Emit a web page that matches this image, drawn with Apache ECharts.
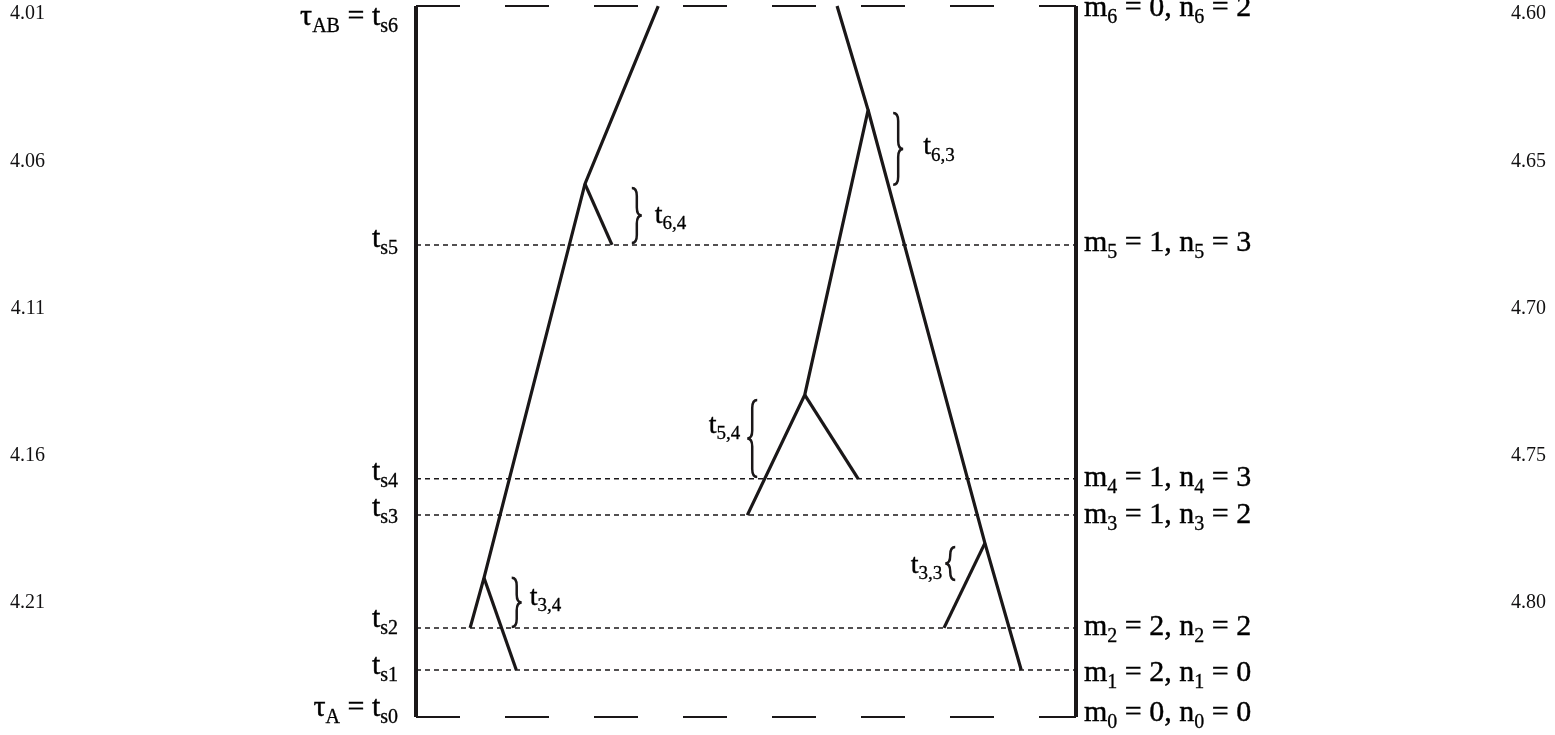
<!DOCTYPE html>
<html>
<head>
<meta charset="utf-8">
<script src="https://cdn.jsdelivr.net/npm/echarts@6/dist/echarts.min.js"></script>
<style>
  html, body { margin: 0; padding: 0; background: #ffffff; }
  #chart { width: 1555px; height: 735px; }
</style>
</head>
<body>
<div id="chart"></div>
<script>
// ---- time scales (increasing downward) ----
const leftTickStart = 4.01;
const rightTickStart = 4.60;
const tickStep = 0.05;
const axisSpan = 0.24;

// ---- sampling levels t_s0 ... t_s6 ----
const levelTimes = [4.2486, 4.2327, 4.2184, 4.1801, 4.1678, 4.0884, 4.0073];
const levelM = [0, 2, 2, 1, 1, 1, 0];
const levelN = [0, 0, 2, 2, 3, 3, 2];

// ---- genealogy branches: [lineage position (0-100 across the box), time] ----
const leftTreeBranches = [
  [[36.7, 4.0073], [25.6, 4.0677], [10.3, 4.2014], [8.2, 4.2184]],
  [[25.6, 4.0677], [29.7, 4.0884]],
  [[10.3, 4.2014], [15.2, 4.2327]]
];
const rightTreeBranches = [
  [[63.8, 4.0073], [68.5, 4.0426], [58.9, 4.1393], [50.2, 4.1801]],
  [[58.9, 4.1393], [67.0, 4.1678]],
  [[68.5, 4.0426], [86.2, 4.1896], [91.7, 4.2327]],
  [[86.2, 4.1896], [80.0, 4.2184]]
];

// ---- coalescent intervals marked with braces ----
const braceNames = ['6,4', '6,3', '5,4', '3,3', '3,4'];
const braceSpans = [[4.0691, 4.0877], [4.0436, 4.0680], [4.1410, 4.1672], [4.1909, 4.2021], [4.2014, 4.2181]];
const bracePositions = [32.7, 72.3, 51.7, 81.7, 14.5];
const braceOpensLeft = [false, false, true, true, false];

// ---- label layout (pixels) ----
const braceLabelGap = [23, 30, 17, 13, 18];
const braceLabelNudge = [0, -2, -13, 2, -5];
const leftLabelNudge = [-9, -4, -9, -7, -7, -6, 11];
const rightLabelNudge = [-4, 3, -1, 0, -1, -2, 2];

const INK = '#000000';
const SERIF = '"Liberation Serif", "Times New Roman", Times, serif';

function richSet(main, sub, drop) {
  return {
    m: { fontSize: main, fontFamily: SERIF, color: INK, textBorderColor: INK, textBorderWidth: 0.4, opacity: 1 },
    s: { fontSize: sub, fontFamily: SERIF, color: INK, textBorderColor: INK, textBorderWidth: 0.3, opacity: 1, padding: [drop, 0, 0, 0] }
  };
}
const levelRich = richSet(30, 20, 19);
const braceRich = richSet(28, 19, 18);

const topLevel = levelTimes.length - 1;

function leftLevelText(i) {
  if (i === topLevel) return '{m|τ}{s|AB}{m| = t}{s|s' + i + '}';
  if (i === 0) return '{m|τ}{s|A}{m| = t}{s|s' + i + '}';
  return '{m|t}{s|s' + i + '}';
}
function rightLevelText(i) {
  return '{m|m}{s|' + i + '}{m| = ' + levelM[i] + ', n}{s|' + i + '}{m| = ' + levelN[i] + '}';
}

const seriesList = [];

function pathSeries(points, width, dash) {
  seriesList.push({
    type: 'line',
    data: points,
    symbol: 'none',
    clip: false,
    silent: true,
    animation: false,
    lineStyle: { color: '#1a1718', width: width, type: dash || 'solid', cap: 'butt', join: 'miter' },
    z: 3
  });
}

// outer box: solid sides, long-dashed top and bottom
pathSeries([[0, levelTimes[0]], [0, levelTimes[topLevel]]], 4);
pathSeries([[100, levelTimes[0]], [100, levelTimes[topLevel]]], 4);
pathSeries([[0, levelTimes[topLevel]], [100, levelTimes[topLevel]]], 2, [44, 45]);
pathSeries([[0, levelTimes[0]], [100, levelTimes[0]]], 2, [44, 45]);
// dotted sampling levels
for (let i = 1; i < topLevel; i++) {
  pathSeries([[0, levelTimes[i]], [100, levelTimes[i]]], 1.5, [5, 4]);
}
// gene trees
leftTreeBranches.concat(rightTreeBranches).forEach(b => pathSeries(b, 3.2));

// braces
seriesList.push({
  type: 'custom',
  silent: true,
  animation: false,
  clip: false,
  data: braceNames.map((n, i) => [bracePositions[i], braceSpans[i][0], braceSpans[i][1], braceOpensLeft[i] ? -1 : 1]),
  renderItem: function (params, api) {
    const p1 = api.coord([api.value(0), api.value(1)]);
    const p2 = api.coord([api.value(0), api.value(2)]);
    const dir = api.value(3);
    const x0 = p1[0], y1 = p1[1], y2 = p2[1], ym = (y1 + y2) / 2;
    const w = 10 * dir, h = w / 2;
    const rv = Math.min(8, (y2 - y1) / 4);
    const d = [
      'M', x0, y1,
      'Q', x0 + h, y1, x0 + h, y1 + rv,
      'L', x0 + h, ym - rv,
      'Q', x0 + h, ym, x0 + w, ym,
      'Q', x0 + h, ym, x0 + h, ym + rv,
      'L', x0 + h, y2 - rv,
      'Q', x0 + h, y2, x0, y2
    ].join(' ');
    return {
      type: 'path',
      shape: { pathData: d },
      style: { stroke: '#1a1718', fill: null, lineWidth: 2.5 }
    };
  },
  z: 4
});

// brace labels
seriesList.push({
  type: 'scatter',
  symbolSize: 0,
  clip: false,
  silent: true,
  animation: false,
  data: braceNames.map((n, i) => ({
    value: [bracePositions[i], (braceSpans[i][0] + braceSpans[i][1]) / 2],
    label: {
      show: true,
      color: INK,
      position: braceOpensLeft[i] ? 'left' : 'right',
      distance: braceLabelGap[i],
      offset: [0, braceLabelNudge[i]],
      formatter: '{m|t}{s|' + n + '}',
      rich: braceRich
    }
  })),
  z: 5
});

// level names on the left, migration / coalescence counts on the right
seriesList.push({
  type: 'scatter',
  symbolSize: 0,
  clip: false,
  silent: true,
  animation: false,
  data: levelTimes.map((t, i) => ({
    value: [0, t],
    label: {
      show: true,
      color: INK,
      position: 'left',
      distance: 18,
      offset: [0, leftLabelNudge[i]],
      formatter: leftLevelText(i),
      rich: levelRich
    }
  })),
  z: 5
});
seriesList.push({
  type: 'scatter',
  symbolSize: 0,
  clip: false,
  silent: true,
  animation: false,
  data: levelTimes.map((t, i) => ({
    value: [100, t],
    label: {
      show: true,
      color: INK,
      position: 'right',
      distance: 8,
      offset: [0, rightLabelNudge[i]],
      formatter: rightLevelText(i),
      rich: levelRich
    }
  })),
  z: 5
});

const tickLabel = {
  showMaxLabel: false,
  fontFamily: SERIF,
  fontSize: 20,
  color: '#111011',
  margin: 8,
  formatter: v => v.toFixed(2)
};

const chart = echarts.init(document.getElementById('chart'), null, { renderer: 'canvas' });
chart.setOption({
  backgroundColor: '#ffffff',
  animation: false,
  grid: { left: 416, right: 479, top: 14, bottom: 14, containLabel: false },
  xAxis: {
    type: 'value', min: 0, max: 100,
    show: false
  },
  yAxis: [
    {
      type: 'value', position: 'left', inverse: true,
      min: leftTickStart, max: leftTickStart + axisSpan, interval: tickStep,
      offset: 363,
      axisLine: { show: false }, axisTick: { show: false }, splitLine: { show: false },
      axisLabel: tickLabel
    },
    {
      type: 'value', position: 'right', inverse: true,
      min: rightTickStart, max: rightTickStart + axisSpan, interval: tickStep,
      offset: 427,
      axisLine: { show: false }, axisTick: { show: false }, splitLine: { show: false },
      axisLabel: Object.assign({}, tickLabel, { align: 'left' })
    }
  ],
  series: seriesList
});
</script>
</body>
</html>
